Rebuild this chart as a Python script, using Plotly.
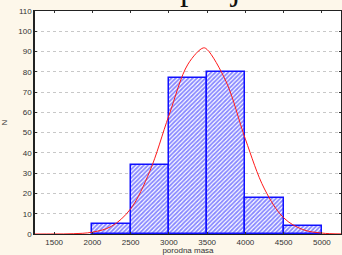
import plotly.graph_objects as go

# Histogram bins (lower edges) and counts
bin_starts = [2000, 2500, 3000, 3500, 4000, 4500]
bin_width = 500
counts = [5, 34, 77, 80, 18, 4]

# Expected-normal curve
curve_x = [1250, 1500, 1750, 2000, 2250, 2500, 2750, 3000, 3250, 3450, 3500, 3750, 4000, 4250, 4500, 4750, 5000, 5250]
curve_y = [0.0, 0.02, 0.15, 0.9, 3.8, 12.4, 30.9, 58.4, 83.8, 91.8, 91.0, 75.0, 46.8, 22.2, 8.0, 2.2, 0.45, 0.05]

x_ticks = [1500, 2000, 2500, 3000, 3500, 4000, 4500, 5000]
y_ticks = list(range(0, 111, 10))

centers = [s + bin_width / 2 for s in bin_starts]

fig = go.Figure()
fig.add_trace(go.Bar(
    x=centers, y=counts, width=[bin_width] * len(counts),
    marker=dict(
        color="white",
        line=dict(color="#1010ff", width=1.5),
        pattern=dict(shape="/", fgcolor="#1010ff", bgcolor="white", size=3, solidity=0.6),
    ),
    showlegend=False,
))
fig.add_trace(go.Scatter(
    x=curve_x, y=curve_y, mode="lines", line=dict(color="#ff1a1a", width=1, shape="spline"),
    showlegend=False,
))

fig.add_annotation(
    text="Raspodjela", xref="paper", yref="paper", x=0.3, y=1.0, yanchor="bottom",
    yshift=2, showarrow=False,
    font=dict(family="Liberation Serif", size=34, color="#111"),
)

fig.update_layout(
    width=342, height=255,
    margin=dict(l=35, r=1, t=11, b=21, autoexpand=False),
    paper_bgcolor="#fdf7ea",
    plot_bgcolor="white",
    bargap=0,
    font=dict(family="Liberation Sans", size=8, color="#333"),
    xaxis=dict(
        range=[1250, 5250], tickvals=x_ticks, ticktext=[str(v) for v in x_ticks],
        automargin=False,
        showgrid=False, zeroline=False, showline=True, linecolor="#222", linewidth=1,
        mirror="ticks", ticks="inside", ticklen=2, tickcolor="#333",
        tickfont=dict(size=8, color="#333"),
        title=dict(text="porodna masa", font=dict(size=8, color="#333"), standoff=8),
    ),
    yaxis=dict(
        range=[0, 110], tickvals=y_ticks, automargin=False,
        showgrid=True, gridcolor="#c8c8c8", griddash="dot", gridwidth=1,
        zeroline=False, showline=True, linecolor="#222", linewidth=1.5,
        mirror="ticks", ticks="inside", ticklen=2, tickcolor="#333",
        tickfont=dict(size=8, color="#333"),
        title=dict(text="N", font=dict(size=8, color="#333"), standoff=12),
    ),
)

fig.write_html(
    "out.html",
    config={"displayModeBar": False},
    post_script="document.body.style.margin='0';document.body.style.overflow='hidden';document.body.style.background='#fdf7ea';",
)
